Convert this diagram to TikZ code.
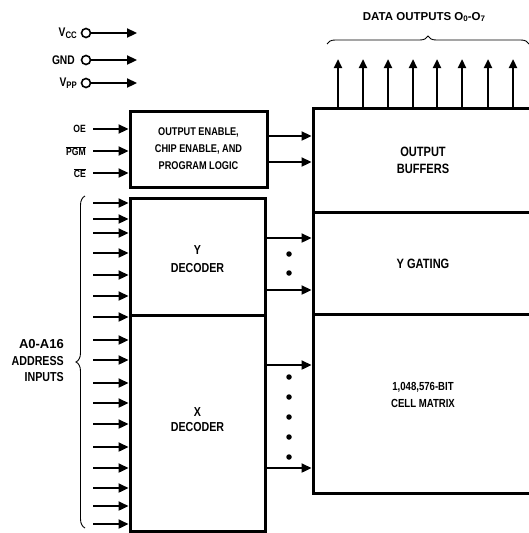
\documentclass[tikz,border=0pt]{standalone}
\usepackage{fontspec}
\setmainfont{Liberation Sans}[FakeStretch=0.82]
\newfontfamily\widefont{Liberation Sans}[FakeStretch=1.0]
\usetikzlibrary{arrows.meta,decorations.pathreplacing,calc}
\newcommand{\sm}[1]{{\fontsize{8}{8}\selectfont\raisebox{-1.2pt}{#1}}}
\newcommand{\smb}[1]{{\fontsize{9.5}{9.5}\selectfont\raisebox{-1.5pt}{#1}}}
\newcommand{\ovl}[1]{\ensuremath{\overline{\mbox{#1}}}}
\begin{document}
\begin{tikzpicture}[x=1pt,y=-1pt,
  blk/.style={draw, line width=3pt, inner sep=0pt, align=center},
  arr/.style={line width=2.3pt, -{Triangle[length=10pt,width=9pt]}},
  arrup/.style={line width=2.3pt, -{Triangle[length=9pt,width=8pt]}},
  lbl/.style={font=\fontsize{13.5}{17}\selectfont\bfseries, align=center},
  sml/.style={font=\fontsize{10.5}{11}\selectfont\bfseries, anchor=east, inner sep=0pt},
  pin/.style={draw, circle, line width=1.6pt, minimum size=9pt, inner sep=0pt},
  dot/.style={fill, circle, minimum size=5.5pt, inner sep=0pt},
  brc/.style={line width=0.9pt, decorate, decoration={brace, amplitude=8pt}}]
\useasboundingbox (0,0) rectangle (529,533);

% power pins
\node[pin] (vccp) at (86,33) {};
\node[pin] (gndp) at (86,60) {};
\node[pin] (vppp) at (86,83) {};
\node[sml, font=\fontsize{12.5}{13}\selectfont\bfseries] (vccl) at (77,33) {V\smb{CC}};
\node[sml, font=\fontsize{12.5}{13}\selectfont\bfseries] (gndl) at (75,60) {GND};
\node[sml, font=\fontsize{12.5}{13}\selectfont\bfseries] (vppl) at (77,83) {V\smb{PP}};
\coordinate (vcce) at (137,33);
\coordinate (gnde) at (137,60);
\coordinate (vppe) at (137,83);
\draw[arr] (vccp) -- (vcce);
\draw[arr] (gndp) -- (gnde);
\draw[arr] (vppp) -- (vppe);

% control logic
\node[blk, minimum width=137pt, minimum height=76pt, font=\fontsize{11.2}{17}\selectfont\bfseries] (ctl) at (198.5,149) {OUTPUT ENABLE,\\CHIP ENABLE, AND\\PROGRAM LOGIC};
\node[sml] (oel) at (86,129) {OE};
\node[sml] (pgml) at (86,151) {\ovl{PGM}};
\node[sml] (cel) at (86,173) {\ovl{CE}};
\coordinate (oes) at (93,129);
\coordinate (pgms) at (93,151);
\coordinate (ces) at (93,173);
\draw[arr] (oes) -- (ctl.west |- oes);
\draw[arr] (pgms) -- (ctl.west |- pgms);
\draw[arr] (ces) -- (ctl.west |- ces);

% decoders
\node[blk, minimum width=135pt, minimum height=117pt] (ydec) at (197.5,256.5) {};
\node[lbl, font=\fontsize{13}{18}\selectfont\bfseries] (ydect) at (197.5,259) {Y\\DECODER};
\node[blk, minimum width=135pt, minimum height=216pt] (xdec) at (197.5,423) {};
\node[lbl, font=\fontsize{13}{15}\selectfont\bfseries] (xdect) at (197.5,420) {X\\DECODER};

% right block
\node[blk, minimum width=220pt, minimum height=104pt] (obuf) at (423,160) {};
\node[lbl] (obuft) at (423,160) {OUTPUT\\BUFFERS};
\node[blk, minimum width=220pt, minimum height=102pt] (ygate) at (423,263) {};
\node[lbl] (ygatet) at (423,264) {Y GATING};
\node[blk, minimum width=220pt, minimum height=179pt] (cell) at (423,403.5) {};
\node[lbl, font=\fontsize{11.7}{17}\selectfont\bfseries] (cellt) at (423,395) {1,048,576-BIT\\CELL MATRIX};

% control to buffers
\draw[arr] (ctl.east |- 0,136) -- (obuf.west |- 0,136);
\draw[arr] (ctl.east |- 0,162) -- (obuf.west |- 0,162);

% decoder outputs
\draw[arr] (ydec.east |- 0,238) -- (ygate.west |- 0,238);
\draw[arr] (ydec.east |- 0,290) -- (ygate.west |- 0,290);
\draw[arr] (xdec.east |- 0,365) -- (cell.west |- 0,365);
\draw[arr] (xdec.east |- 0,468) -- (cell.west |- 0,468);
\foreach \yy [count=\i] in {254,273} \node[dot] (yd\i) at (289,\yy) {};
\foreach \yy [count=\i] in {377,397,417,437,457} \node[dot] (xd\i) at (289,\yy) {};

% address inputs
\foreach \yy [count=\i] in {203,219,233,253,275,296,317,340,360} {
  \coordinate (a\i) at (93,\yy);
  \draw[arr] (a\i) -- (ydec.west |- a\i);
}
\foreach \yy [count=\i from 10] in {383,403,424,447,468,488,506,524} {
  \coordinate (a\i) at (93,\yy);
  \draw[arr] (a\i) -- (xdec.west |- a\i);
}
\coordinate (bl1) at (85,528);
\coordinate (bl2) at (85,196);
\draw[brc, decoration={amplitude=9pt}] (bl1) -- (bl2);
\node[lbl, font=\fontsize{13}{16.5}\selectfont\bfseries, anchor=east, align=right, inner sep=0pt] (addr) at (64,361) {{\widefont\bfseries A0-A16}\\ADDRESS\\INPUTS};

% data outputs
\foreach \xx [count=\i] in {338,363,388,413,437,462,488,513} {
  \coordinate (d\i) at (\xx,59);
  \draw[arrup] (obuf.north -| d\i) -- (d\i);
}
\coordinate (bt1) at (327,44);
\coordinate (bt2) at (529,44);
\draw[brc] (bt1) -- (bt2);
\node[lbl, font=\widefont\fontsize{11.5}{12}\selectfont\bfseries] (dout) at (424,17) {DATA OUTPUTS O\sm{0}-O\sm{7}};
\end{tikzpicture}
\end{document}
